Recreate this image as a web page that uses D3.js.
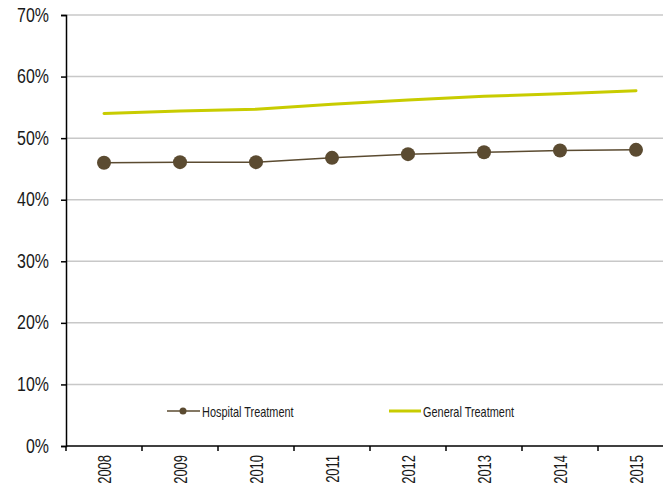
<!DOCTYPE html>
<html>
<head>
<meta charset="utf-8">
<script src="https://cdn.jsdelivr.net/npm/d3@7"></script>
<style>
  html, body { margin: 0; padding: 0; background: #fff; }
  svg { display: block; font-family: "Liberation Sans", Arial, sans-serif; }
</style>
</head>
<body>
<svg id="chart" width="663" height="495"></svg>
<script>
// Share of treatment by year
const years = ["2008", "2009", "2010", "2011", "2012", "2013", "2014", "2015"];
const hospitalTreatment = [46.0, 46.1, 46.1, 46.8, 47.4, 47.7, 48.0, 48.1];
const generalTreatment = [54.0, 54.4, 54.7, 55.5, 56.2, 56.8, 57.2, 57.7];
const yTicks = [0, 10, 20, 30, 40, 50, 60, 70];
const seriesNames = ["Hospital Treatment", "General Treatment"];

const svg = d3.select("#chart");
const W = 663;
const plotLeft = 66, plotTop = 15, plotBottom = 446, plotRight = 674;

const x = d3.scaleBand().domain(years).range([plotLeft, plotRight]).padding(0);
const y = d3.scaleLinear().domain([0, 70]).range([plotBottom, plotTop]);

const hospitalColor = "#5b4b31";
const generalColor = "#c8cc00";
const textColor = "#1a1a1a";

// horizontal gridlines
svg.append("g")
  .selectAll("line")
  .data(yTicks.filter(d => d > 0))
  .join("line")
  .attr("x1", plotLeft).attr("x2", W)
  .attr("y1", d => y(d)).attr("y2", d => y(d))
  .attr("stroke", "#c8c8c8").attr("stroke-width", 1.5);

// y axis with narrow, tall labels
const yAxis = svg.append("g")
  .attr("transform", `translate(${plotLeft},0)`)
  .call(d3.axisLeft(y).tickValues(yTicks).tickFormat(d => d + "%").tickSize(5));
yAxis.select(".domain").attr("stroke", "#000").attr("stroke-width", 1.5);
yAxis.selectAll(".tick line").attr("stroke", "#000").attr("stroke-width", 1.5);
yAxis.selectAll(".tick text")
  .attr("x", 0).attr("y", 6).attr("dy", null)
  .attr("transform", "translate(-17,0) scale(0.76,1)")
  .attr("text-anchor", "end")
  .attr("font-size", 21).attr("fill", textColor)
  .attr("font-family", "'Liberation Sans', Arial, sans-serif");

// x axis: ticks at band boundaries
const xg = svg.append("g");
xg.append("line")
  .attr("x1", plotLeft).attr("x2", W)
  .attr("y1", plotBottom).attr("y2", plotBottom)
  .attr("stroke", "#000").attr("stroke-width", 1.5);
xg.selectAll("line.tick")
  .data(years)
  .join("line")
  .attr("class", "tick")
  .attr("x1", d => x(d)).attr("x2", d => x(d))
  .attr("y1", plotBottom).attr("y2", plotBottom + 5)
  .attr("stroke", "#000").attr("stroke-width", 1.5);
xg.selectAll("text")
  .data(years)
  .join("text")
  .attr("transform", d => `translate(${x(d) + x.bandwidth() / 2 + 6.5},${plotBottom + 9}) rotate(-90) scale(0.72,1)`)
  .attr("text-anchor", "end")
  .attr("font-size", 18)
  .attr("fill", textColor)
  .text(d => d);

const cx = d => x(d) + x.bandwidth() / 2;

// general treatment line
svg.append("path")
  .datum(generalTreatment)
  .attr("fill", "none")
  .attr("stroke", generalColor)
  .attr("stroke-width", 3)
  .attr("stroke-linecap", "round")
  .attr("d", d3.line().x((d, i) => cx(years[i])).y(d => y(d)));

// hospital treatment line with markers
svg.append("path")
  .datum(hospitalTreatment)
  .attr("fill", "none")
  .attr("stroke", hospitalColor)
  .attr("stroke-width", 1.5)
  .attr("d", d3.line().x((d, i) => cx(years[i])).y(d => y(d)));
svg.append("g")
  .selectAll("circle")
  .data(hospitalTreatment)
  .join("circle")
  .attr("cx", (d, i) => cx(years[i]))
  .attr("cy", d => y(d))
  .attr("r", 7)
  .attr("fill", hospitalColor);

// legend
const legend = svg.append("g");
legend.append("line").attr("x1", 167).attr("x2", 200).attr("y1", 411).attr("y2", 411)
  .attr("stroke", hospitalColor).attr("stroke-width", 1.5);
legend.append("circle").attr("cx", 183).attr("cy", 411).attr("r", 3.5).attr("fill", hospitalColor);
legend.append("text")
  .attr("transform", "translate(202,417) scale(0.78,1)")
  .attr("font-size", 14).attr("fill", textColor)
  .text(seriesNames[0]);
legend.append("line").attr("x1", 389).attr("x2", 421).attr("y1", 411).attr("y2", 411)
  .attr("stroke", generalColor).attr("stroke-width", 3);
legend.append("text")
  .attr("transform", "translate(423,417) scale(0.78,1)")
  .attr("font-size", 14).attr("fill", textColor)
  .text(seriesNames[1]);
</script>
</body>
</html>
